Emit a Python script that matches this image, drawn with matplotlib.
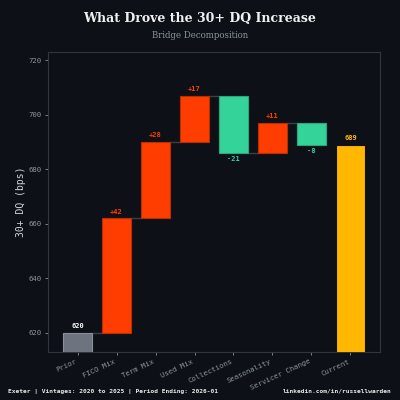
import matplotlib
matplotlib.use("Agg")
import matplotlib.pyplot as plt

categories = ["Prior", "FICO Mix", "Term Mix", "Used Mix", "Collections",
              "Seasonality", "Servicer Change", "Current"]
prior_value = 620
changes = [42, 28, 17, -21, 11, -8]
current_value = 689

BG = "#0d1117"
INC = "#ff3d00"
DEC = "#34d399"
TOT_PRIOR = "#6e7380"
TOT_CUR = "#ffb700"
TXT = "#d0d7de"
MUTED = "#8b949e"
GRID = "#30363d"

fig = plt.figure(figsize=(4, 4), dpi=100, facecolor=BG)
ax = fig.add_axes([0.12, 0.12, 0.83, 0.75])
ax.set_facecolor(BG)

w = 0.75
mono = "DejaVu Sans Mono"
lfs = 5

# Prior bar
ax.bar(0, prior_value, width=w, color=TOT_PRIOR, edgecolor="#8a8f9c", linewidth=0.8, zorder=3)
ax.text(0, prior_value + 1.3, f"{prior_value}", ha="center", va="bottom",
        fontsize=lfs, color="white", fontweight="bold", family=mono)

level = prior_value
for i, c in enumerate(changes, start=1):
    bottom = level if c >= 0 else level + c
    col = INC if c >= 0 else DEC
    ec = "#b83000" if c >= 0 else "#2aa87a"
    ax.bar(i, abs(c), bottom=bottom, width=w, color=col, edgecolor=ec, linewidth=0.8, zorder=3)
    # connector
    ax.plot([i - 1 + w / 2, i - w / 2], [level, level], color="#3a3f47", lw=1.0, zorder=2)
    new_level = level + c
    if c >= 0:
        ax.text(i, new_level + 1.3, f"+{c}", ha="center", va="bottom",
                fontsize=lfs, color=INC, fontweight="bold", family=mono)
    else:
        ax.text(i, new_level - 1.3, f"{c}", ha="center", va="top",
                fontsize=lfs, color=DEC, fontweight="bold", family=mono)
    level = new_level

ax.bar(7, current_value, width=w, color=TOT_CUR, edgecolor="#0d1117", linewidth=0.8, zorder=3)
ax.text(7, current_value + 1.3, f"{current_value}", ha="center", va="bottom",
        fontsize=lfs, color=TOT_CUR, fontweight="bold", family=mono)

ax.set_ylim(613, 723)
ax.set_xlim(-0.76, 7.76)
ax.set_yticks([620, 640, 660, 680, 700, 720])
ax.set_xticks(range(len(categories)))
ax.set_xticklabels(categories, rotation=25, ha="right",
                   fontsize=5.2, color=TXT, family=mono)
for lab in ax.get_yticklabels():
    lab.set_fontsize(5.2)
    lab.set_color(TXT)
    lab.set_family(mono)
ax.tick_params(axis="both", colors=MUTED, length=2.5, width=0.6, pad=2)
for s in ax.spines.values():
    s.set_color(GRID)
    s.set_linewidth(0.8)
ax.set_ylabel("30+ DQ (bps)", fontsize=7, color=TXT, family=mono, labelpad=2)

fig.text(0.5, 0.953, "What Drove the 30+ DQ Increase", ha="center", va="center",
         fontsize=9, fontweight="bold", color="#f0f0f0", family="DejaVu Serif")
fig.text(0.5, 0.912, "Bridge Decomposition", ha="center", va="center",
         fontsize=6.2, color=MUTED, family="DejaVu Serif")
fig.text(0.02, 0.022, "Exeter | Vintages: 2020 to 2025 | Period Ending: 2026-01",
         ha="left", va="center", fontsize=4.5, fontweight="bold", color="#e6e6e6", family=mono)
fig.text(0.98, 0.022, "linkedin.com/in/russellwarden",
         ha="right", va="center", fontsize=4.5, fontweight="bold", color="#e6e6e6", family=mono)

fig.savefig("out.png", dpi=100, facecolor=BG)
